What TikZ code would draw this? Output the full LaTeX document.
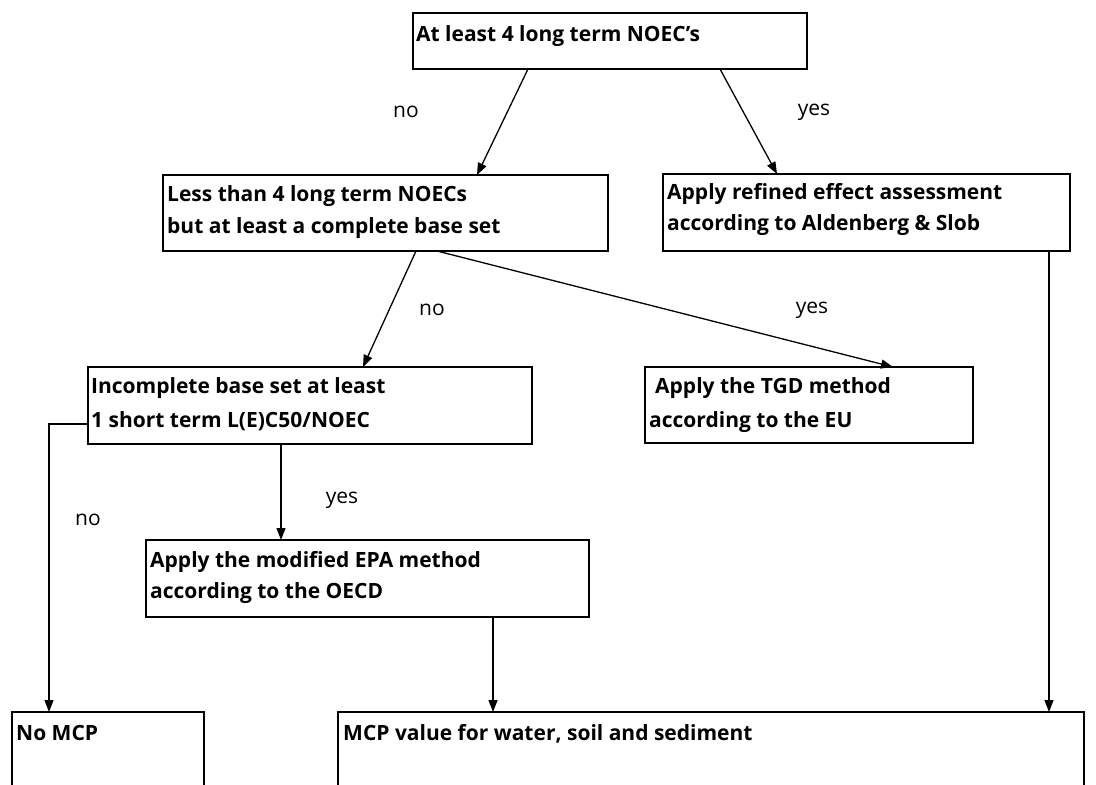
\documentclass[tikz,border=0pt]{standalone}
\usepackage{fontspec}
\setmainfont{Open Sans}
\usetikzlibrary{arrows.meta}
\begin{document}
\begin{tikzpicture}[x=1pt,y=-1pt,
  box/.style={draw, line width=2.4pt, rectangle, anchor=north west, inner sep=0pt, outer sep=0pt},
  txt/.style={anchor=base west, inner sep=0pt, font=\fontsize{21}{30}\selectfont\bfseries},
  lab/.style={anchor=center, inner sep=0pt, font=\fontsize{21}{30}\selectfont},
  conn/.style={line width=1.3pt, -{Triangle[length=12pt,width=9pt]}}]
\useasboundingbox (0,0) rectangle (1096,785);
\clip (0,0) rectangle (1096,785);
% boxes
\node[box, minimum width=394pt, minimum height=56pt] (t) at (413,13) {};
\node[box, minimum width=445pt, minimum height=76pt] (b2) at (163,175) {};
\node[box, minimum width=407pt, minimum height=77pt] (b3) at (663,174) {};
\node[box, minimum width=444pt, minimum height=77pt] (b4) at (88,367) {};
\node[box, minimum width=328pt, minimum height=76pt] (b5) at (645,367) {};
\node[box, minimum width=443pt, minimum height=77pt] (b6) at (146,540) {};
\node[box, minimum width=192pt, minimum height=120pt] (b7) at (12,712) {};
\node[box, minimum width=746pt, minimum height=120pt] (b8) at (338,712) {};
% texts
\node[txt] (tt) at (416,41) {At least 4 long term NOEC's};
\node[txt] (t2a) at (167,201) {Less than 4 long term NOECs};
\node[txt] (t2b) at (167,233) {but at least a complete base set};
\node[txt] (t3a) at (667,199) {Apply refined effect assessment};
\node[txt] (t3b) at (667,230) {according to Aldenberg \& Slob};
\node[txt] (t4a) at (91,393) {Incomplete base set at least};
\node[txt] (t4b) at (91,427) {1 short term L(E)C50/NOEC};
\node[txt] (t5a) at (655,393) {Apply the TGD method};
\node[txt] (t5b) at (649,427) {according to the EU};
\node[txt] (t6a) at (150,567) {Apply the modified EPA method};
\node[txt] (t6b) at (150,598) {according to the OECD};
\node[txt] (t7) at (16,740) {No MCP};
\node[txt] (t8) at (343,740) {MCP value for water, soil and sediment};
% labels
\node[lab] (l1) at (406,112) {no};
\node[lab] (l2) at (814,112) {yes};
\node[lab] (l3) at (432,310) {no};
\node[lab] (l4) at (812,310) {yes};
\node[lab] (l5) at (342,500) {yes};
\node[lab] (l6) at (88,520) {no};
% connectors
\draw[conn] (528,0 |- t.south) -- (477,0 |- b2.north);
\draw[conn] (720,0 |- t.south) -- (777,0 |- b3.north);
\draw[conn] (416,0 |- b2.south) -- (363,0 |- b4.north);
\draw[conn] (437,0 |- b2.south) -- (893,0 |- b5.north);
\draw[conn] (281,0 |- b4.south) -- (281,0 |- b6.north);
\coordinate (c1) at (49,424);
\draw[conn] (b4.west |- c1) -- (c1) -- (c1 |- b7.north);
\draw[conn] (493,0 |- b6.south) -- (493,0 |- b8.north);
\draw[conn] (1049,0 |- b3.south) -- (1049,0 |- b8.north);
\end{tikzpicture}
\end{document}
